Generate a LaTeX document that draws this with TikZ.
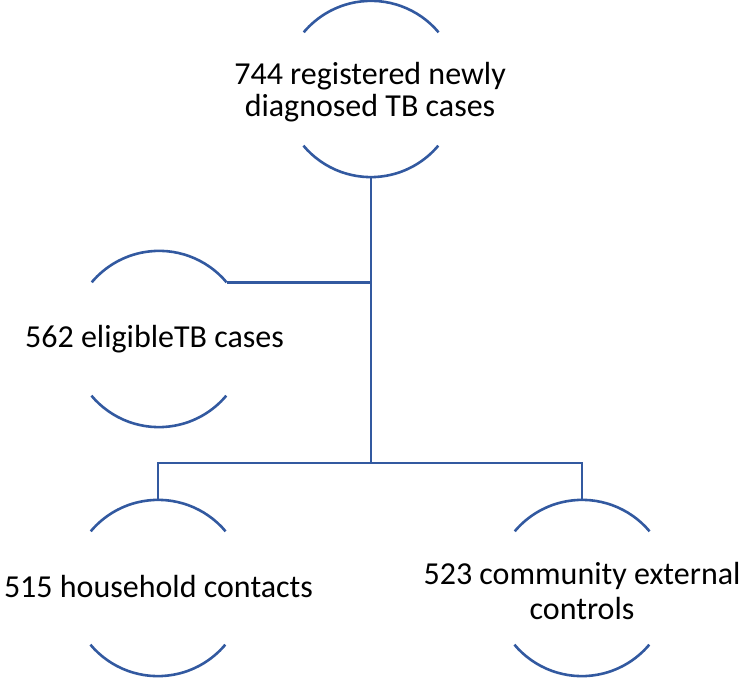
\documentclass[tikz,border=0pt]{standalone}
\usepackage{fontspec}
\setmainfont{Carlito}
\definecolor{lineblue}{HTML}{3259A0}
\newcommand\mytightlines{\lineskiplimit=-50pt\relax}
\begin{document}
\begin{tikzpicture}[x=1pt,y=1pt,
  conn/.style={draw=lineblue, line width=2.6pt},
  arcline/.style={draw=lineblue, line width=2.6pt},
  circ/.style={circle, minimum size=176pt, inner sep=0pt, draw=none},
  lbl/.style={font={\fontsize{32}{32}\selectfont\mytightlines}, align=center, inner sep=0pt, text=black},
  lblwide/.style={font={\fontsize{32}{35}\selectfont\mytightlines}, align=center, inner sep=0pt, text=black}]
\useasboundingbox (0,0) rectangle (741,677);
% circles (invisible shapes carrying the arcs)
\node[circ] (a) at (371,588) {};
\node[circ] (b) at (159,338) {};
\node[circ] (c) at (158,89) {};
\node[circ] (d) at (582,89) {};
\coordinate (j) at (371,214);
% arcs
\foreach \n in {a,b,c,d}{
  \draw[arcline] (\n.40) arc[start angle=40, end angle=140, radius=88pt];
  \draw[arcline] (\n.220) arc[start angle=220, end angle=320, radius=88pt];
}
% connectors
\draw[conn] (a.south) -- (j);
\draw[conn] (b.40) -- (b.40 -| a.south);
\draw[conn] (c.north) |- (j) -| (d.north);
% texts
\node[lbl] (ta) at (370,585) {744 registered newly\\diagnosed TB cases};
\node[lbl, anchor=base] (tb) at (154.5,329) {562 eligibleTB cases};
\node[lbl, anchor=base] (tc) at (158.5,79) {515 household contacts};
\node[lblwide] (td) at (582,86) {523 community external\\controls};
\end{tikzpicture}
\end{document}
